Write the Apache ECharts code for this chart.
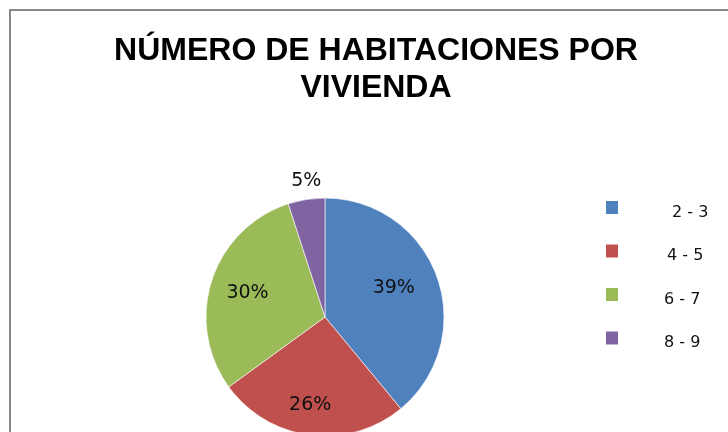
<!DOCTYPE html>
<html>
<head>
<meta charset="utf-8">
<script src="https://cdn.jsdelivr.net/npm/echarts@6/dist/echarts.min.js"></script>
<style>
  html, body { margin: 0; padding: 0; background: #ffffff; }
  #chart { width: 728px; height: 432px; }
</style>
</head>
<body>
<div id="chart"></div>
<script>
// data
const categories = ['2 - 3', '4 - 5', '6 - 7', '8 - 9'];
const percents = [39, 26, 30, 5];
const colors = ['#4F81BD', '#C0504D', '#9BBB59', '#8064A2'];
// nudges so the labels sit where Excel put them
const labelShift = [[10, -8], [-7, 26], [-18, -5], [-9, -74]];
const legendIndent = [49, 44, 41, 41];

const chart = echarts.init(document.getElementById('chart'));

const option = {
  animation: false,
  color: colors,
  title: {
    text: 'NÚMERO DE HABITACIONES POR\nVIVIENDA',
    left: 371,
    textAlign: 'center',
    top: 28,
    textStyle: {
      fontFamily: 'Liberation Sans',
      fontSize: 32,
      fontWeight: 'bold',
      lineHeight: 37,
      color: '#000'
    }
  },
  legend: {
    orient: 'vertical',
    left: 606,
    top: 201,
    padding: 0,
    icon: 'rect',
    itemWidth: 12,
    itemHeight: 13,
    itemGap: 24,
    itemStyle: { borderWidth: 0 },
    selectedMode: false,
    formatter: name => '{t|' + name + '}',
    textStyle: {
      fontFamily: 'DejaVu Sans',
      fontSize: 16,
      color: '#111',
      rich: {
        t: {
          fontFamily: 'DejaVu Sans',
          fontSize: 16,
          color: '#111',
          lineHeight: 26,
          verticalAlign: 'bottom'
        }
      }
    },
    data: categories.map((name, i) => ({
      name: name,
      textStyle: { padding: [0, 0, 0, legendIndent[i]] }
    }))
  },
  graphic: [{
    type: 'rect',
    shape: { x: 10, y: 10, width: 800, height: 500 },
    style: { fill: 'none', stroke: '#888888', lineWidth: 2 },
    silent: true
  }],
  series: [{
    type: 'pie',
    center: [325, 317],
    radius: 119,
    startAngle: 90,
    clockwise: true,
    silent: true,
    itemStyle: { borderColor: '#ffffff', borderWidth: 0.6 },
    label: {
      position: 'inside',
      formatter: '{c}%',
      fontFamily: 'DejaVu Sans',
      fontSize: 19,
      color: '#111'
    },
    labelLine: { show: false },
    data: categories.map((name, i) => ({
      name: name,
      value: percents[i],
      label: { offset: labelShift[i] }
    }))
  }]
};

chart.setOption(option);
window.addEventListener('resize', () => {
  chart.resize();
});
</script>
</body>
</html>
